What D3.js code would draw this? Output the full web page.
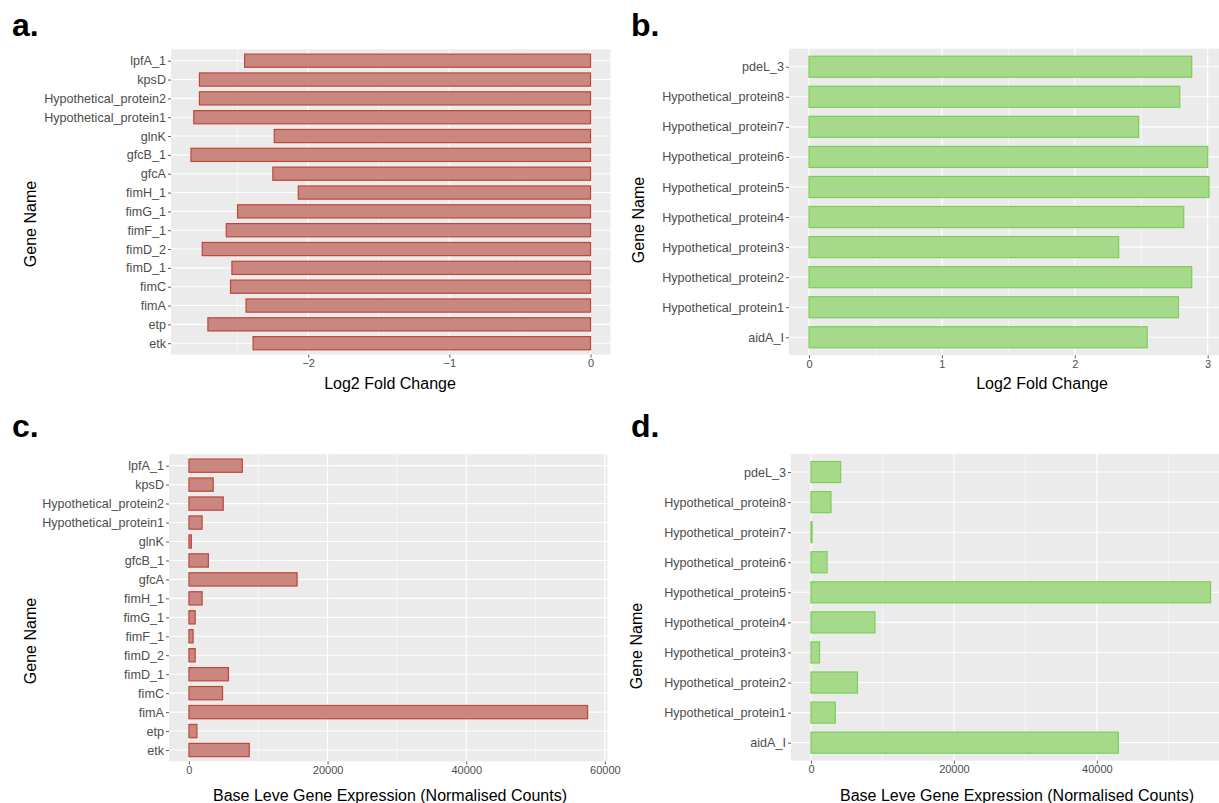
<!DOCTYPE html>
<html>
<head>
<meta charset="utf-8">
<script src="https://cdn.jsdelivr.net/npm/d3@7"></script>
<style>
  html, body { margin: 0; padding: 0; background: #ffffff; }
  svg { display: block; }
  text { font-family: "Liberation Sans", Arial, Helvetica, sans-serif; }
</style>
</head>
<body>
<svg id="chart" width="1219" height="803"></svg>
<script>
// ---- Data ----------------------------------------------------------------
// Down-regulated genes (panels a and c), listed top to bottom
const downGenes = ["lpfA_1", "kpsD", "Hypothetical_protein2", "Hypothetical_protein1", "glnK",
  "gfcB_1", "gfcA", "fimH_1", "fimG_1", "fimF_1", "fimD_2", "fimD_1", "fimC", "fimA", "etp", "etk"];
const downLog2FC = [-2.45, -2.77, -2.77, -2.81, -2.24, -2.83, -2.25, -2.07, -2.50, -2.58,
  -2.75, -2.54, -2.55, -2.44, -2.71, -2.39];
const downBaseExpr = [7700, 3500, 4950, 1900, 350, 2800, 15600, 1900, 900, 600,
  900, 5700, 4850, 57500, 1150, 8700];

// Up-regulated genes (panels b and d), listed top to bottom
const upGenes = ["pdeL_3", "Hypothetical_protein8", "Hypothetical_protein7", "Hypothetical_protein6",
  "Hypothetical_protein5", "Hypothetical_protein4", "Hypothetical_protein3", "Hypothetical_protein2",
  "Hypothetical_protein1", "aidA_I"];
const upLog2FC = [2.88, 2.79, 2.48, 3.00, 3.01, 2.82, 2.33, 2.88, 2.78, 2.545];
const upBaseExpr = [4150, 2800, 150, 2250, 55900, 8950, 1200, 6500, 3400, 43000];

// Axis ticks
const fcTicksDown = [-2, -1, 0];
const fcMinorDown = [-2.5, -1.5, -0.5];
const fcTicksUp = [0, 1, 2, 3];
const fcMinorUp = [0.5, 1.5, 2.5];
const exprTicks = [0, 20000, 40000, 60000];
const exprMinor = [10000, 30000, 50000];

const panelLetters = ["a.", "b.", "c.", "d."];
const fcTitle = "Log2 Fold Change";
const exprTitle = "Base Leve Gene Expression (Normalised Counts)";
const yTitle = "Gene Name";

// ---- Styles ----------------------------------------------------------------
const redFill = "#c9877f", redStroke = "#c0463c";
const greenFill = "#a7d98b", greenStroke = "#7bcf57";

// ---- Panel layout ----------------------------------------------------------
const panels = [
  { letter: panelLetters[0], genes: downGenes, values: downLog2FC, ticks: fcTicksDown, minor: fcMinorDown,
    fmt: d3.format("d"), title: fcTitle, fill: redFill, stroke: redStroke,
    x0: 171, x1: 610.5, y0: 49.4, y1: 354.5, titleX: 390, titleY: 389,
    yTitleX: 30, yTitleY: 224, letterX: 12, letterY: 36 },
  { letter: panelLetters[1], genes: upGenes, values: upLog2FC, ticks: fcTicksUp, minor: fcMinorUp,
    fmt: d3.format("d"), title: fcTitle, fill: greenFill, stroke: greenStroke,
    x0: 789, x1: 1229, y0: 48.7, y1: 355.3, titleX: 1042, titleY: 389,
    yTitleX: 638, yTitleY: 220, letterX: 631, letterY: 36 },
  { letter: panelLetters[2], genes: downGenes, values: downBaseExpr, ticks: exprTicks, minor: exprMinor,
    fmt: d3.format("d"), title: exprTitle, fill: redFill, stroke: redStroke,
    x0: 169, x1: 607.5, y0: 454.3, y1: 761.4, titleX: 390, titleY: 801,
    yTitleX: 30, yTitleY: 641, letterX: 12, letterY: 437 },
  { letter: panelLetters[3], genes: upGenes, values: upBaseExpr, ticks: exprTicks, minor: exprMinor,
    fmt: d3.format("d"), title: exprTitle, fill: greenFill, stroke: greenStroke,
    x0: 791, x1: 1230.5, y0: 454, y1: 760.7, titleX: 1017, titleY: 801,
    yTitleX: 636, yTitleY: 646, letterX: 631, letterY: 437 }
];

const svg = d3.select("#chart");

panels.forEach(p => {
  const g = svg.append("g");

  // continuous scale with 5% expansion around the data range (bars start at 0)
  const lo = Math.min(0, d3.min(p.values)), hi = Math.max(0, d3.max(p.values));
  const pad = (hi - lo) * 0.05;
  const x = d3.scaleLinear().domain([lo - pad, hi + pad]).range([p.x0, p.x1]);
  const y = d3.scalePoint().domain(p.genes).range([p.y0, p.y1]).padding(0.6);
  const barH = y.step() * 0.7;

  // panel background
  g.append("rect").attr("x", p.x0).attr("y", p.y0)
    .attr("width", p.x1 - p.x0).attr("height", p.y1 - p.y0).attr("fill", "#ebebeb");

  // minor and major grid lines
  const inDomain = v => v >= x.domain()[0] && v <= x.domain()[1];
  g.selectAll(".minor").data(p.minor.filter(inDomain)).join("line")
    .attr("x1", d => x(d)).attr("x2", d => x(d)).attr("y1", p.y0).attr("y2", p.y1)
    .attr("stroke", "#ffffff").attr("stroke-width", 0.55);
  g.selectAll(".major").data(p.ticks.filter(inDomain)).join("line")
    .attr("x1", d => x(d)).attr("x2", d => x(d)).attr("y1", p.y0).attr("y2", p.y1)
    .attr("stroke", "#ffffff").attr("stroke-width", 1.1);
  g.selectAll(".hgrid").data(p.genes).join("line")
    .attr("x1", p.x0).attr("x2", p.x1).attr("y1", d => y(d)).attr("y2", d => y(d))
    .attr("stroke", "#ffffff").attr("stroke-width", 1.1);

  // bars
  g.selectAll(".bar").data(p.genes.map((k, i) => ({ k, v: p.values[i] }))).join("rect")
    .attr("x", d => Math.min(x(0), x(d.v)))
    .attr("width", d => Math.abs(x(d.v) - x(0)))
    .attr("y", d => y(d.k) - barH / 2)
    .attr("height", barH)
    .attr("fill", p.fill).attr("stroke", p.stroke).attr("stroke-width", 1.2);

  // x axis
  const xa = g.append("g").attr("transform", `translate(0,${p.y1})`)
    .call(d3.axisBottom(x).tickValues(p.ticks.filter(inDomain)).tickFormat(p.fmt)
      .tickSize(3).tickPadding(1.5));
  xa.select(".domain").remove();
  xa.selectAll(".tick line").attr("stroke", "#333333").attr("stroke-width", 0.8);
  xa.selectAll(".tick text").attr("fill", "#4d4d4d").style("font-size", "11px")
    .style("font-family", "'Liberation Sans', Arial, sans-serif");

  // y axis
  const ya = g.append("g").attr("transform", `translate(${p.x0},0)`)
    .call(d3.axisLeft(y).tickSize(3).tickPadding(2));
  ya.select(".domain").remove();
  ya.selectAll(".tick line").attr("stroke", "#333333").attr("stroke-width", 0.8);
  ya.selectAll(".tick text").attr("fill", "#4d4d4d").style("font-size", "12.6px")
    .style("font-family", "'Liberation Sans', Arial, sans-serif");

  // axis titles
  g.append("text").attr("x", p.titleX).attr("y", p.titleY).attr("text-anchor", "middle")
    .style("font-size", "16px").attr("fill", "#000000").text(p.title);
  g.append("text").attr("transform", `translate(${p.yTitleX + 6},${p.yTitleY}) rotate(-90)`)
    .attr("text-anchor", "middle").style("font-size", "16px").attr("fill", "#000000").text(yTitle);

  // panel letter
  g.append("text").attr("x", p.letterX).attr("y", p.letterY)
    .style("font-size", "32px").style("font-weight", "bold").attr("fill", "#000000").text(p.letter);
});
</script>
</body>
</html>
